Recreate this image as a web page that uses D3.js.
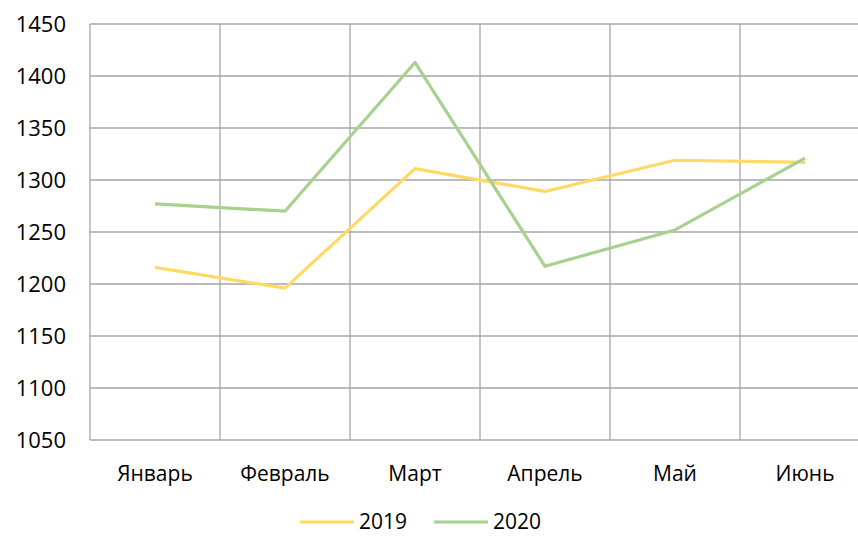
<!DOCTYPE html>
<html>
<head>
<meta charset="utf-8">
<script src="https://cdn.jsdelivr.net/npm/d3@7"></script>
<style>
  body { margin: 0; background: #fff; overflow: hidden; }
  svg text { font-family: "Open Sans", Lato, sans-serif; fill: #000; }
</style>
</head>
<body>
<script>
var months = ["Январь", "Февраль", "Март", "Апрель", "Май", "Июнь"];
var values2019 = [1216, 1196, 1311, 1289, 1319, 1317];
var values2020 = [1277, 1270, 1413, 1217, 1252, 1321];
var yTicks = [1050, 1100, 1150, 1200, 1250, 1300, 1350, 1400, 1450];
var seriesNames = ["2019", "2020"];
var seriesColors = ["#FFD966", "#A9D18E"];

var width = 858, height = 538;
var svg = d3.select("body").append("svg").attr("width", width).attr("height", height);

var x = d3.scaleBand().domain(months).range([90, 870]);
var y = d3.scaleLinear().domain([1050, 1450]).range([440, 24]);

var grid = svg.append("g").attr("class", "grid");
grid.selectAll("line.h")
    .data(yTicks)
    .enter().append("line")
    .attr("class", "h")
    .attr("x1", 90).attr("x2", width)
    .attr("y1", function (d) { return y(d); })
    .attr("y2", function (d) { return y(d); })
    .attr("stroke", "#a6a6a6").attr("stroke-width", 1.3);

var vEdges = months.map(function (m) { return x(m); });
grid.selectAll("line.v")
    .data(vEdges)
    .enter().append("line")
    .attr("class", "v")
    .attr("x1", function (d) { return d; }).attr("x2", function (d) { return d; })
    .attr("y1", y(1450)).attr("y2", y(1050))
    .attr("stroke", "#a6a6a6").attr("stroke-width", 1.3);

var yAxis = svg.append("g")
    .attr("transform", "translate(66,0)")
    .call(d3.axisLeft(y).tickValues(yTicks).tickFormat(d3.format("d")).tickSize(0).tickPadding(0));
yAxis.select(".domain").remove();
yAxis.selectAll("text").style("font-size", "22px").attr("dy", "0.35em");

var xAxis = svg.append("g")
    .attr("transform", "translate(0,474)")
    .call(d3.axisBottom(x).tickSize(0).tickPadding(0));
xAxis.select(".domain").remove();
xAxis.selectAll("text").style("font-size", "21px").attr("dy", "0.35em");

var line = d3.line()
    .x(function (d, i) { return x(months[i]) + x.bandwidth() / 2; })
    .y(function (d) { return y(d); });

[values2019, values2020].forEach(function (vals, i) {
    svg.append("path")
        .datum(vals)
        .attr("fill", "none")
        .attr("stroke", seriesColors[i])
        .attr("stroke-width", 3.2)
        .attr("stroke-linejoin", "round")
        .attr("d", line);
});

var legend = svg.selectAll(".legend")
    .data(seriesNames)
    .enter().append("g")
    .attr("class", "legend")
    .attr("transform", function (d, i) { return "translate(" + (300 + i * 134) + ",522)"; });
legend.append("line")
    .attr("x1", 0).attr("x2", 54).attr("y1", 0).attr("y2", 0)
    .attr("stroke", function (d, i) { return seriesColors[i]; })
    .attr("stroke-width", 3.2);
legend.append("text")
    .attr("x", 59).attr("y", 0).attr("dy", "0.35em")
    .style("font-size", "21px")
    .text(function (d) { return d; });
</script>
</body>
</html>
